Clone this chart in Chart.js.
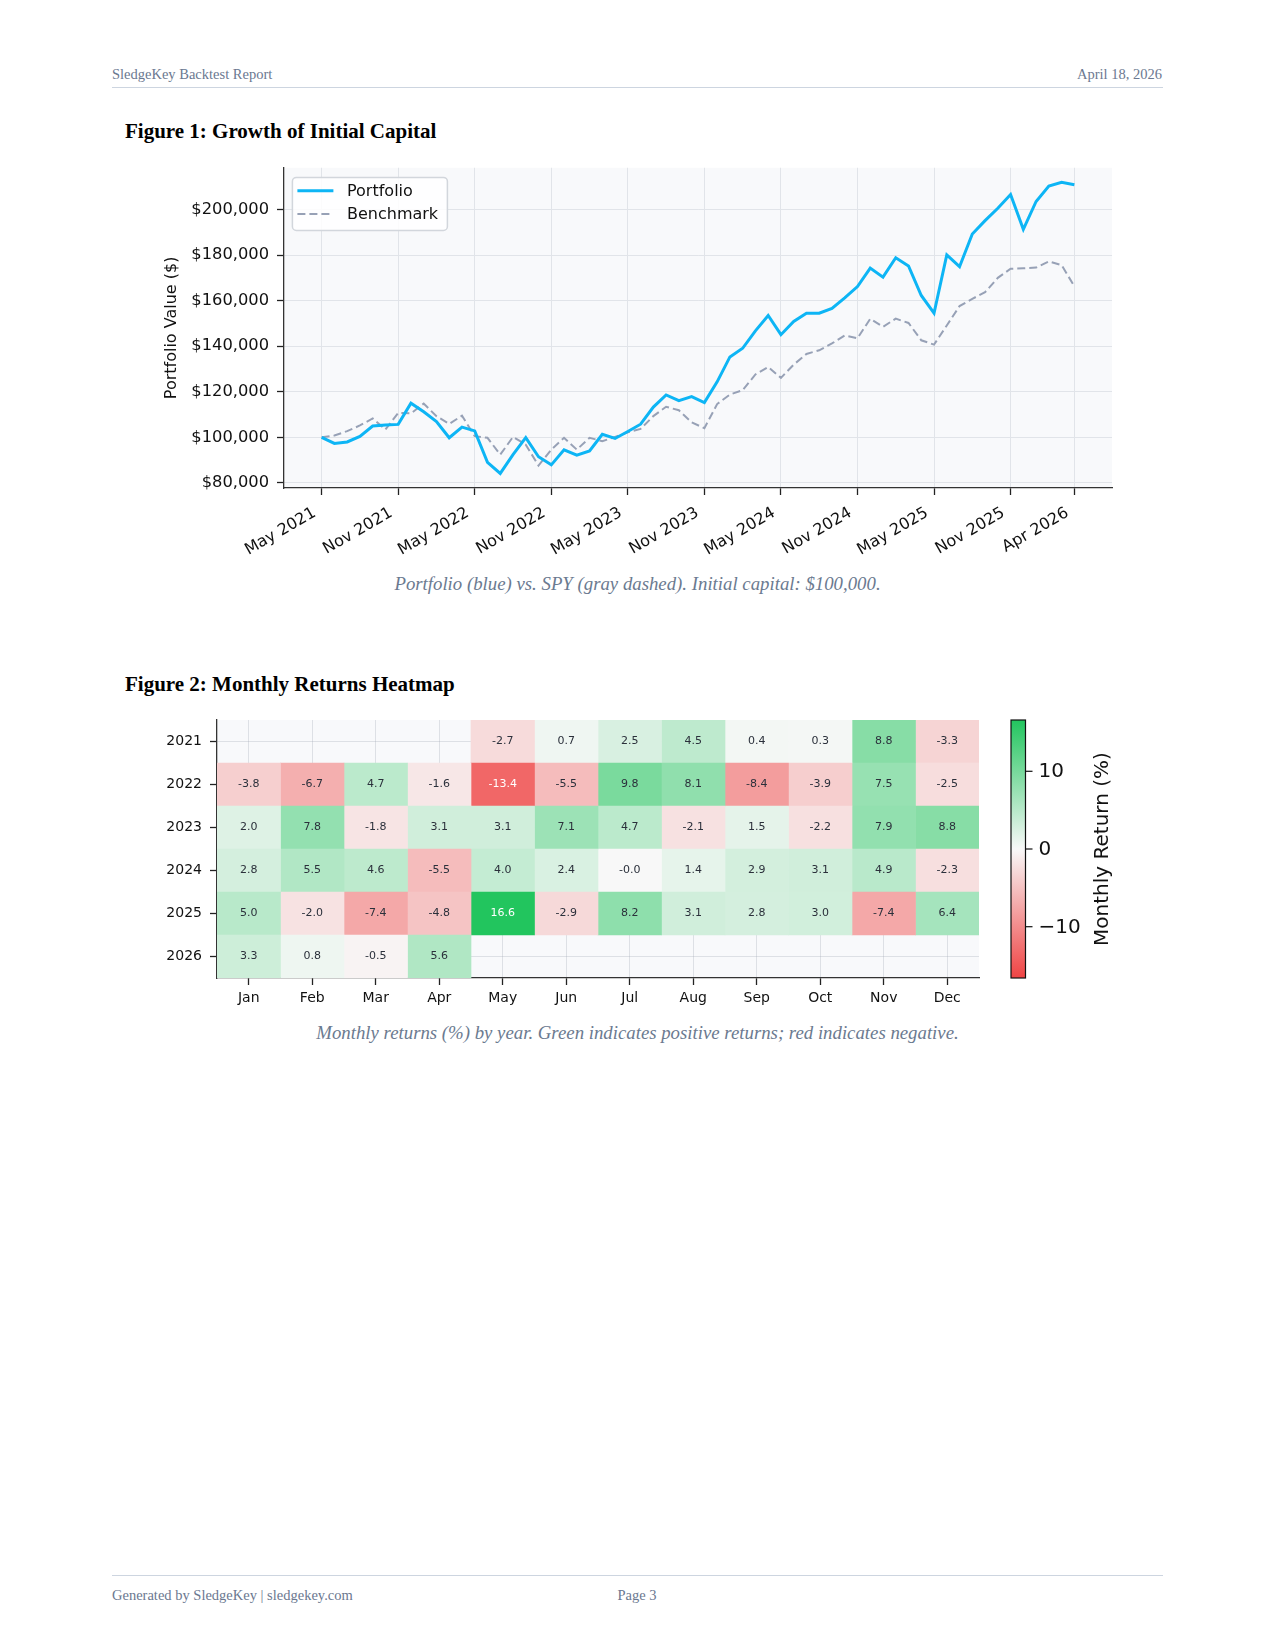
<!DOCTYPE html>
<html>
<head>
<meta charset="utf-8">
<title>SledgeKey Backtest Report</title>
<script src="https://cdn.jsdelivr.net/npm/chart.js@4.4.1/dist/chart.umd.min.js"></script>
<style>
  body { margin: 0; background: #fff; }
  #page { position: relative; width: 1275px; height: 1651px; font-family: "Liberation Serif", "Times New Roman", serif; }
  .txt { position: absolute; white-space: nowrap; }
  .hdr { font-size: 14.5px; line-height: 20px; color: #6b7890; }
  .fig { font-size: 21px; line-height: 24px; font-weight: bold; color: #000; left: 125px; }
  .cap { font-size: 18.8px; line-height: 24px; font-style: italic; color: #6b7a90; left: 0; width: 1275px; text-align: center; }
  .rule { position: absolute; left: 112px; width: 1051px; height: 1px; background: #cdd5e0; }
  canvas { position: absolute; }
</style>
</head>
<body>
<div id="page">
  <div class="txt hdr" style="left:112px; top:63.7px;">SledgeKey Backtest Report</div>
  <div class="txt hdr" style="right:113px; top:63.7px;">April 18, 2026</div>
  <div class="rule" style="top:87px;"></div>

  <div class="txt fig" style="top:118.5px;">Figure 1: Growth of Initial Capital</div>
  <canvas id="growth" width="980" height="420" style="left:150px; top:150px;"></canvas>
  <div class="txt cap" style="top:572.3px;">Portfolio (blue) vs. SPY (gray dashed). Initial capital: $100,000.</div>

  <div class="txt fig" style="top:672.3px;">Figure 2: Monthly Returns Heatmap</div>
  <canvas id="heatmap" width="1000" height="310" style="left:140px; top:710px;"></canvas>
  <div class="txt cap" style="top:1020.8px;">Monthly returns (%) by year. Green indicates positive returns; red indicates negative.</div>

  <div class="rule" style="top:1575px;"></div>
  <div class="txt hdr" style="left:112px; top:1585px;">Generated by SledgeKey | sledgekey.com</div>
  <div class="txt hdr" style="left:0; width:1274px; text-align:center; top:1585px;">Page 3</div>
</div>

<script>
"use strict";

// ---- Figure 1 data ----
const months = [
    'May 2021', 'Jun 2021', 'Jul 2021', 'Aug 2021', 'Sep 2021', 'Oct 2021', 'Nov 2021', 'Dec 2021',
    'Jan 2022', 'Feb 2022', 'Mar 2022', 'Apr 2022', 'May 2022', 'Jun 2022', 'Jul 2022', 'Aug 2022', 'Sep 2022', 'Oct 2022', 'Nov 2022', 'Dec 2022',
    'Jan 2023', 'Feb 2023', 'Mar 2023', 'Apr 2023', 'May 2023', 'Jun 2023', 'Jul 2023', 'Aug 2023', 'Sep 2023', 'Oct 2023', 'Nov 2023', 'Dec 2023',
    'Jan 2024', 'Feb 2024', 'Mar 2024', 'Apr 2024', 'May 2024', 'Jun 2024', 'Jul 2024', 'Aug 2024', 'Sep 2024', 'Oct 2024', 'Nov 2024', 'Dec 2024',
    'Jan 2025', 'Feb 2025', 'Mar 2025', 'Apr 2025', 'May 2025', 'Jun 2025', 'Jul 2025', 'Aug 2025', 'Sep 2025', 'Oct 2025', 'Nov 2025', 'Dec 2025',
    'Jan 2026', 'Feb 2026', 'Mar 2026', 'Apr 2026'
];
const portfolio = [
    100000, 97300, 97980, 100430, 104950, 105370, 105680, 114980, 111190, 106960,
    99800, 104490, 102820, 89040, 84140, 92390, 99870, 91480, 87910, 94510,
    92150, 93990, 101320, 99500, 102580, 105760, 113270, 118600, 116100, 117840,
    115250, 124360, 135300, 139090, 146740, 153490, 145050, 150850, 154470, 154470,
    156630, 161170, 166170, 174310, 170300, 178820, 175240, 162270, 154480, 180120,
    174900, 189240, 195110, 200570, 206590, 191300, 203540, 210260, 211940, 210880
];
const benchmark = [
    100000, 100800, 102700, 105200, 108300, 103400, 110700, 110500, 114800, 109300,
    105900, 109500, 100500, 99800, 92400, 100200, 96800, 87600, 94600, 99800,
    94600, 99800, 98300, 100200, 102200, 103700, 109300, 113400, 111900, 106600,
    104000, 114600, 118800, 120700, 127600, 130900, 126100, 131900, 136600, 138200,
    141200, 144700, 143500, 152000, 148500, 152100, 150200, 142600, 140700, 149100,
    157600, 160800, 163700, 170000, 174000, 174200, 174500, 177200, 175600, 166300
];
const xTickLabels = ['May 2021', 'Nov 2021', 'May 2022', 'Nov 2022', 'May 2023', 'Nov 2023',
    'May 2024', 'Nov 2024', 'May 2025', 'Nov 2025', 'Apr 2026'];
const yTicks = [80000, 100000, 120000, 140000, 160000, 180000, 200000];

// ---- Figure 2 data ----
const years = ['2021', '2022', '2023', '2024', '2025', '2026'];
const monthNames = ['Jan', 'Feb', 'Mar', 'Apr', 'May', 'Jun', 'Jul', 'Aug', 'Sep', 'Oct', 'Nov', 'Dec'];
const returns = [
    [null, null, null, null, -2.7, 0.7, 2.5, 4.5, 0.4, 0.3, 8.8, -3.3],
    [-3.8, -6.7, 4.7, -1.6, -13.4, -5.5, 9.8, 8.1, -8.4, -3.9, 7.5, -2.5],
    [2.0, 7.8, -1.8, 3.1, 3.1, 7.1, 4.7, -2.1, 1.5, -2.2, 7.9, 8.8],
    [2.8, 5.5, 4.6, -5.5, 4.0, 2.4, -0.04, 1.4, 2.9, 3.1, 4.9, -2.3],
    [5.0, -2.0, -7.4, -4.8, 16.6, -2.9, 8.2, 3.1, 2.8, 3.0, -7.4, 6.4],
    [3.3, 0.8, -0.5, 5.6, null, null, null, null, null, null, null, null]
];
const colorTicks = [10, 0, -10];
const colorLimit = 16.6;

const TICK_FONT = '"DejaVu Sans", sans-serif';
const GRID = '#e1e4e9';
const SPINE = '#333';

// fill the plotting area
const plotBg = {
    id: 'plotBg',
    beforeDraw(chart, args, opts) {
        const {ctx, chartArea: a} = chart;
        ctx.save();
        ctx.fillStyle = opts.color;
        ctx.fillRect(a.left, a.top, a.right - a.left, a.bottom - a.top);
        ctx.restore();
    }
};

// rotated date labels, y title and legend for figure 1
const growthDecor = {
    id: 'growthDecor',
    afterDraw(chart) {
        const {ctx, chartArea: a} = chart;
        const x = chart.scales.x;
        ctx.save();
        ctx.fillStyle = '#111';
        ctx.font = '16px ' + TICK_FONT;
        ctx.textAlign = 'right';
        ctx.textBaseline = 'top';
        x.ticks.forEach((t, k) => {
            const px = x.getPixelForValue(t.value);
            ctx.save();
            ctx.translate(px - 11, a.bottom + 17);
            ctx.rotate(-Math.PI / 6);
            ctx.fillText(xTickLabels[k], 0, 0);
            ctx.restore();
        });

        ctx.save();
        ctx.translate(21.5, (a.top + a.bottom) / 2);
        ctx.rotate(-Math.PI / 2);
        ctx.textAlign = 'center';
        ctx.textBaseline = 'middle';
        ctx.fillText('Portfolio Value ($)', 0, 0);
        ctx.restore();

        // legend
        const bx = a.left + 8.4, by = a.top + 9.7, bw = 155, bh = 53;
        ctx.beginPath();
        ctx.roundRect(bx, by, bw, bh, 4);
        ctx.fillStyle = 'rgba(255,255,255,0.85)';
        ctx.fill();
        ctx.strokeStyle = '#d2d6dc';
        ctx.lineWidth = 1.5;
        ctx.stroke();
        chart.data.datasets.forEach((ds, i) => {
            const yy = by + 13.3 + i * 23.3;
            ctx.beginPath();
            ctx.setLineDash(ds.borderDash || []);
            ctx.strokeStyle = ds.borderColor;
            ctx.lineWidth = ds.borderWidth;
            ctx.moveTo(bx + 5, yy);
            ctx.lineTo(bx + 41, yy);
            ctx.stroke();
            ctx.setLineDash([]);
            ctx.fillStyle = '#111';
            ctx.textAlign = 'left';
            ctx.textBaseline = 'middle';
            ctx.fillText(ds.label, bx + 54.6, yy + 1);
        });
        ctx.restore();
    }
};

new Chart(document.getElementById('growth'), {
    type: 'line',
    data: {
        datasets: [{
            label: 'Portfolio',
            data: portfolio.map((v, i) => ({x: i, y: v})),
            borderColor: '#0db5f5',
            borderWidth: 3,
            pointRadius: 0,
            tension: 0
        }, {
            label: 'Benchmark',
            data: benchmark.map((v, i) => ({x: i, y: v})),
            borderColor: '#97a1b6',
            borderWidth: 2,
            borderDash: [8, 4],
            pointRadius: 0,
            tension: 0
        }]
    },
    options: {
        responsive: false,
        animation: false,
        layout: {padding: {top: 16, right: 18, left: 0, bottom: 0}},
        plugins: {
            legend: {display: false},
            tooltip: {enabled: false},
            plotBg: {color: '#f8f9fb'}
        },
        scales: {
            x: {
                type: 'linear',
                min: -2.95,
                max: 61.95,
                afterBuildTicks: s => { s.ticks = xTickLabels.map(l => ({value: months.indexOf(l)})); },
                afterFit: s => { s.height = 82; },
                ticks: {display: false},
                grid: {color: GRID, tickColor: '#222', tickLength: 7, tickWidth: 1.3},
                border: {color: SPINE, width: 1.3}
            },
            y: {
                min: 77750,
                max: 218330,
                afterBuildTicks: s => { s.ticks = yTicks.map(v => ({value: v})); },
                afterFit: s => { s.width = 134; },
                ticks: {
                    font: {family: TICK_FONT, size: 16.3},
                    color: '#111',
                    padding: 8,
                    callback: v => '$' + v.toLocaleString('en-US')
                },
                grid: {color: GRID, tickColor: '#222', tickLength: 7, tickWidth: 1.3},
                border: {color: SPINE, width: 1.3}
            }
        }
    },
    plugins: [plotBg, growthDecor]
});

// ---- heatmap ----
const RED = [239, 68, 68], MID = [248, 248, 248], GREEN = [34, 197, 94];
function cellColor(v) {
    const t = Math.min(1, Math.abs(v) / colorLimit);
    const end = v >= 0 ? GREEN : RED;
    const c = MID.map((m, k) => Math.round(m + (end[k] - m) * t));
    return 'rgb(' + c.join(',') + ')';
}

const heatDecor = {
    id: 'heatDecor',
    afterDraw(chart) {
        const {ctx, chartArea: a} = chart;
        ctx.save();
        // cell values
        ctx.font = '11px ' + TICK_FONT;
        ctx.textAlign = 'center';
        ctx.textBaseline = 'middle';
        monthNames.forEach((m, c) => {
            chart.getDatasetMeta(c).data.forEach((el, r) => {
                const v = returns[r][c];
                if (v === null) return;
                const p = el.getCenterPoint();
                ctx.fillStyle = Math.abs(v) > 10 ? '#ffffff' : '#2b303b';
                ctx.fillText(v.toFixed(1), p.x, p.y);
            });
        });

        // colour bar
        const x0 = a.right + 32, w = 14.5, top = a.top, h = a.bottom - a.top;
        const grad = ctx.createLinearGradient(0, top, 0, top + h);
        grad.addColorStop(0, cellColor(colorLimit));
        grad.addColorStop(0.5, cellColor(0));
        grad.addColorStop(1, cellColor(-colorLimit));
        ctx.fillStyle = grad;
        ctx.fillRect(x0, top, w, h);
        ctx.strokeStyle = '#111';
        ctx.lineWidth = 1.2;
        ctx.strokeRect(x0, top, w, h);
        ctx.font = '20px ' + TICK_FONT;
        ctx.textAlign = 'left';
        ctx.fillStyle = '#111';
        colorTicks.forEach(v => {
            const py = top + (colorLimit - v) / (2 * colorLimit) * h;
            ctx.beginPath();
            ctx.moveTo(x0 + w, py);
            ctx.lineTo(x0 + w + 7, py);
            ctx.stroke();
            ctx.fillText(v < 0 ? '\u2212' + Math.abs(v) : String(v), x0 + w + 13, py + 1);
        });
        ctx.save();
        ctx.translate(a.right + 124, top + h / 2);
        ctx.rotate(-Math.PI / 2);
        ctx.textAlign = 'center';
        ctx.font = '20px ' + TICK_FONT;
        ctx.fillText('Monthly Return (%)', 0, 0);
        ctx.restore();
        ctx.restore();
    }
};

const HGRID = 'rgba(160,166,178,0.30)';

new Chart(document.getElementById('heatmap'), {
    type: 'bar',
    data: {
        labels: years,
        datasets: monthNames.map((m, c) => ({
            label: m,
            data: returns.map(row => row[c] === null ? null : [c, c + 1]),
            backgroundColor: returns.map(row => row[c] === null ? 'rgba(0,0,0,0)' : cellColor(row[c])),
            borderWidth: 0,
            barPercentage: 1,
            categoryPercentage: 1,
            grouped: false
        }))
    },
    options: {
        indexAxis: 'y',
        responsive: false,
        animation: false,
        layout: {padding: {top: 10, right: 161, left: 0, bottom: 0}},
        plugins: {
            legend: {display: false},
            tooltip: {enabled: false},
            plotBg: {color: '#f8f9fb'}
        },
        scales: {
            x: {
                type: 'linear',
                min: 0,
                max: 12,
                z: 1,
                afterBuildTicks: s => { s.ticks = monthNames.map((m, i) => ({value: i + 0.5})); },
                afterFit: s => { s.height = 42; s.paddingLeft = 0; s.paddingRight = 0; },
                ticks: {
                    font: {family: TICK_FONT, size: 14},
                    color: '#111',
                    padding: 5,
                    maxRotation: 0,
                    callback: (v, i) => monthNames[i]
                },
                grid: {color: HGRID, tickColor: '#222', tickLength: 7, tickWidth: 1.3},
                border: {color: SPINE, width: 1.3}
            },
            y: {
                z: 1,
                afterFit: s => { s.width = 77; s.paddingTop = 0; s.paddingBottom = 0; },
                ticks: {font: {family: TICK_FONT, size: 14}, color: '#111', padding: 8},
                grid: {offset: false, color: HGRID, tickColor: '#222', tickLength: 7, tickWidth: 1.3},
                border: {color: SPINE, width: 1.3}
            }
        }
    },
    plugins: [plotBg, heatDecor]
});
</script>
</body>
</html>
